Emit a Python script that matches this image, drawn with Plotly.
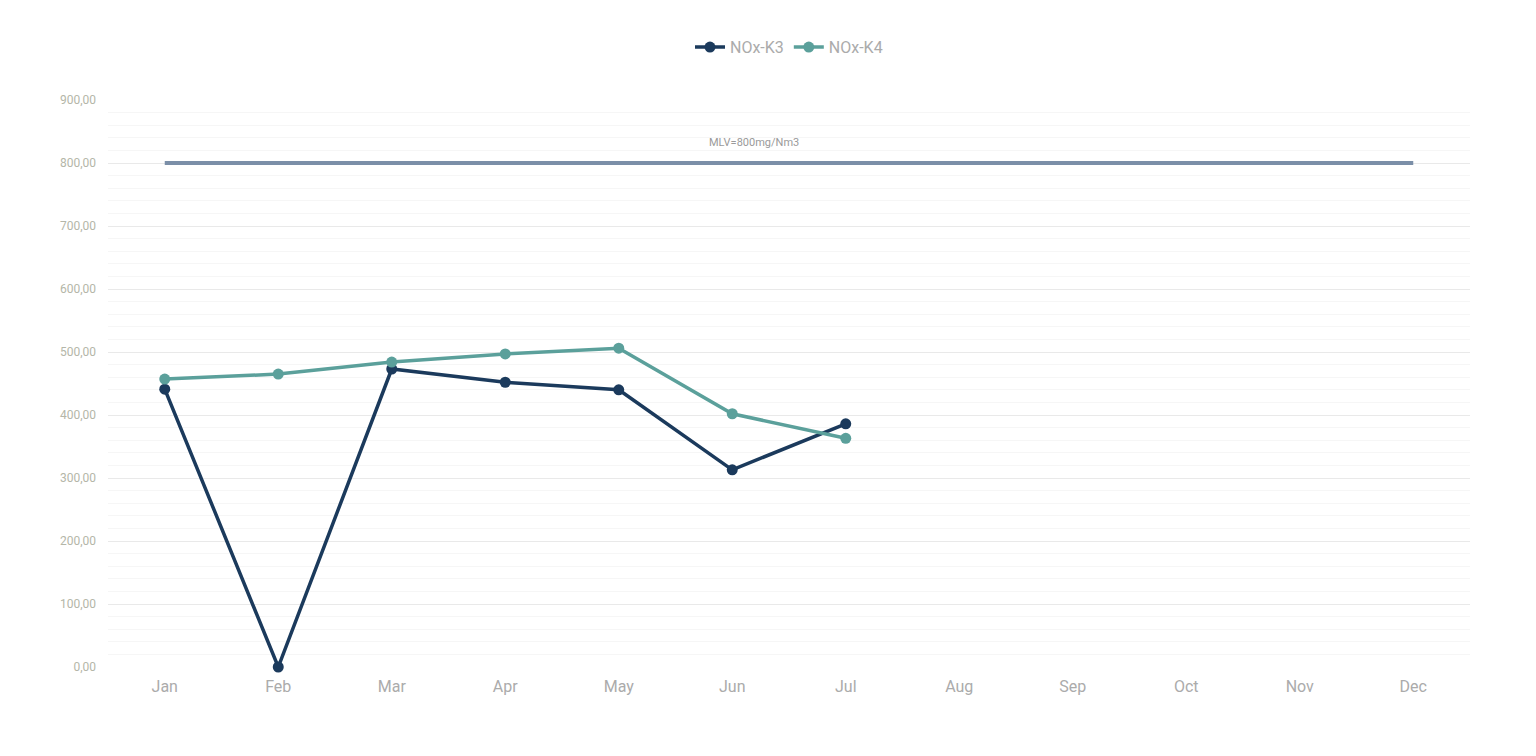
"""Monthly NOx emissions for boilers K3 and K4 against the MLV limit."""

import plotly.graph_objects as go

MONTHS = ["Jan", "Feb", "Mar", "Apr", "May", "Jun",
          "Jul", "Aug", "Sep", "Oct", "Nov", "Dec"]

# measured values (mg/Nm3), Jan-Jul only
NOX_K3 = [441, 0, 473, 452, 440, 313, 386]
NOX_K4 = [457, 465, 484, 497, 506, 402, 363]

MLV_VALUE = 800
MLV_LABEL = "MLV=800mg/Nm3"

K3_COLOR = "#1b3a5c"
K4_COLOR = "#5ba09b"
MLV_COLOR = "#7b8fa8"
TEXT_COLOR = "#ababab"

fig = go.Figure()

# emission limit line, spans the whole year
fig.add_trace(go.Scatter(
    x=MONTHS,
    y=[MLV_VALUE] * len(MONTHS),
    mode="lines",
    line=dict(width=4, color=MLV_COLOR),
    showlegend=False,
    hoverinfo="skip",
))

fig.add_trace(go.Scatter(
    x=MONTHS[:len(NOX_K3)],
    y=NOX_K3,
    name="NOx-K3",
    mode="lines+markers",
    line=dict(width=3.5, color=K3_COLOR),
    marker=dict(size=11, color=K3_COLOR),
    cliponaxis=False,
))

fig.add_trace(go.Scatter(
    x=MONTHS[:len(NOX_K4)],
    y=NOX_K4,
    name="NOx-K4",
    mode="lines+markers",
    line=dict(width=3.5, color=K4_COLOR),
    marker=dict(size=11, color=K4_COLOR),
    cliponaxis=False,
))

fig.add_annotation(
    x=5.19, y=MLV_VALUE, xref="x", yref="y",
    text=MLV_LABEL, showarrow=False,
    yshift=21,
    font=dict(size=11, color="#9a9a9a"),
)

fig.update_xaxes(
    type="category",
    categoryorder="array",
    categoryarray=MONTHS,
    range=[-0.5, 11.5],
    showgrid=False,
    showline=False,
    zeroline=False,
    ticks="",
    ticklabelstandoff=8,
    tickfont=dict(size=16, color=TEXT_COLOR),
)

fig.update_yaxes(
    range=[0, 900],
    dtick=100,
    tickformat=".2f",
    showgrid=True,
    gridcolor="#e9e9e9",
    gridwidth=1,
    minor=dict(dtick=20, showgrid=True, gridcolor="#f6f6f6", gridwidth=1),
    zeroline=False,
    showline=False,
    ticks="",
    ticklabelstandoff=11,
    tickfont=dict(size=12, color="#b4b6a8"),
)

# page body has an 8px margin, so the figure is sized to fit inside it
fig.update_layout(
    width=1520,
    height=740,
    margin=dict(l=100, r=58, t=92, b=81),
    paper_bgcolor="white",
    plot_bgcolor="white",
    separators=",.",
    font=dict(family="Roboto, Arial, sans-serif", color=TEXT_COLOR),
    legend=dict(
        orientation="h",
        x=0.5, xanchor="center",
        y=0.947, yanchor="middle",
        yref="container",
        font=dict(size=16, color=TEXT_COLOR),
        itemwidth=30,
    ),
    showlegend=True,
)

fig.write_html("out.html")
